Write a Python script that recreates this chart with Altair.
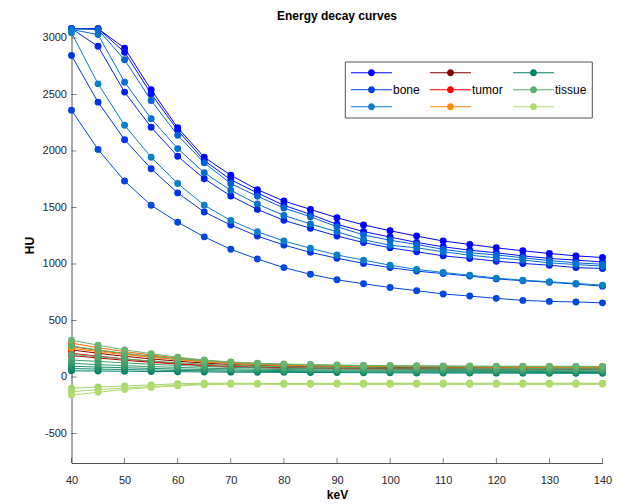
import altair as alt
import pandas as pd

kev = list(range(40, 145, 5))

# ---- bone curves ----
bone_1 = [3082, 3082, 2910, 2542, 2205, 1945, 1785, 1658, 1557, 1483, 1409, 1346, 1294, 1247, 1203, 1173, 1143, 1117, 1093, 1072, 1057]
bone_2 = [3082, 3082, 2874, 2506, 2183, 1915, 1745, 1629, 1519, 1439, 1351, 1287, 1238, 1191, 1152, 1122, 1099, 1072, 1049, 1034, 1018]
bone_3 = [3082, 2926, 2521, 2210, 1953, 1754, 1602, 1483, 1386, 1316, 1247, 1190, 1143, 1108, 1072, 1049, 1025, 1005, 989, 968, 960]
bone_4 = [2845, 2432, 2100, 1843, 1629, 1460, 1345, 1247, 1168, 1103, 1051, 1005, 968, 937, 915, 893, 868, 852, 838, 822, 804]
bone_5 = [2360, 2014, 1734, 1519, 1370, 1240, 1130, 1044, 968, 909, 860, 825, 792, 764, 735, 716, 696, 678, 669, 664, 656]
bone_6 = [3082, 3075, 2807, 2447, 2139, 1895, 1711, 1600, 1495, 1418, 1330, 1257, 1210, 1173, 1129, 1099, 1080, 1055, 1030, 1010, 998]
bone_7 = [3075, 3030, 2609, 2286, 2021, 1807, 1652, 1530, 1430, 1354, 1285, 1214, 1166, 1143, 1108, 1078, 1055, 1035, 1010, 995, 981]
bone_8 = [3046, 2594, 2227, 1945, 1712, 1520, 1385, 1285, 1203, 1139, 1080, 1034, 989, 952, 925, 901, 875, 857, 843, 828, 813]

# ---- tumor curves ----
tumor_1 = [240, 210, 183, 160, 140, 123, 110, 101, 95, 91, 88, 86, 84, 83, 82, 81, 80, 79, 79, 78, 78]
tumor_2 = [190, 168, 148, 130, 115, 102, 93, 87, 83, 80, 78, 76, 75, 74, 73, 72, 72, 71, 71, 70, 70]
tumor_3 = [210, 185, 160, 138, 118, 100, 88, 82, 78, 75, 73, 71, 70, 69, 68, 67, 67, 66, 66, 65, 65]
tumor_4 = [270, 235, 205, 178, 155, 135, 120, 110, 103, 98, 95, 93, 91, 90, 89, 88, 87, 87, 86, 86, 85]
tumor_5 = [300, 260, 225, 195, 168, 147, 130, 119, 111, 106, 102, 99, 97, 95, 94, 93, 92, 91, 91, 90, 90]
tumor_6 = [255, 225, 198, 175, 153, 135, 121, 112, 105, 100, 97, 95, 93, 92, 91, 90, 89, 89, 88, 88, 88]

# ---- tissue curves ----
tissue_1 = [55, 53, 51, 49, 47, 45, 43, 42, 41, 40, 39, 38, 37, 36, 35, 35, 34, 34, 33, 33, 33]
tissue_2 = [75, 70, 66, 62, 58, 55, 52, 50, 48, 47, 46, 45, 44, 43, 42, 42, 41, 41, 40, 40, 40]
tissue_3 = [95, 88, 82, 76, 70, 66, 62, 59, 57, 55, 54, 53, 52, 51, 50, 50, 49, 49, 48, 48, 48]
tissue_4 = [120, 110, 100, 92, 85, 78, 73, 69, 66, 64, 62, 61, 60, 59, 58, 57, 57, 56, 56, 55, 55]
tissue_5 = [150, 138, 125, 113, 102, 93, 86, 81, 77, 74, 72, 70, 69, 68, 67, 66, 65, 65, 64, 64, 63]
tissue_6 = [200, 180, 160, 142, 126, 113, 103, 96, 91, 87, 84, 82, 80, 79, 78, 77, 76, 75, 75, 74, 74]
tissue_7 = [275, 240, 210, 185, 162, 143, 128, 118, 111, 106, 102, 99, 97, 95, 94, 93, 92, 91, 91, 90, 90]
tissue_8 = [325, 282, 240, 207, 175, 150, 133, 122, 115, 110, 106, 103, 101, 99, 98, 97, 96, 95, 95, 94, 94]
tissue_9 = [-100, -88, -80, -70, -60, -55, -55, -57, -57, -57, -56, -56, -55, -55, -55, -55, -55, -55, -55, -55, -55]
tissue_10 = [-130, -112, -98, -85, -72, -62, -60, -60, -61, -61, -60, -60, -60, -60, -60, -60, -60, -60, -60, -60, -60]
tissue_11 = [-160, -135, -110, -92, -78, -68, -64, -64, -65, -65, -65, -65, -65, -65, -65, -65, -65, -65, -65, -65, -65]

series = [
    (bone_1, "#0000FF"), (bone_2, "#0010F8"), (bone_3, "#0020F0"), (bone_4, "#0036E6"),
    (bone_5, "#0048E0"), (bone_6, "#0066D6"), (bone_7, "#0072D0"), (bone_8, "#0A80C8"),
    (tumor_1, "#8B0000"), (tumor_2, "#B40000"), (tumor_3, "#FF0000"), (tumor_4, "#FF3C00"),
    (tumor_5, "#FF6400"), (tumor_6, "#FF8C00"),
    (tissue_1, "#00806A"), (tissue_2, "#10886A"), (tissue_3, "#20906C"), (tissue_4, "#32986C"),
    (tissue_5, "#42A06C"), (tissue_6, "#50A86E"), (tissue_7, "#5AAE6E"), (tissue_8, "#66B46E"),
    (tissue_9, "#A0D46C"), (tissue_10, "#A8D86C"), (tissue_11, "#B0DC6C"),
]

x_ticks = list(range(40, 141, 10))
y_ticks = list(range(-500, 3001, 500))

# legend entries (column-major: bone, tumor, tissue)
legend_ids = ["b1", "b2", "b3", "t1", "t2", "t3", "s1", "s2", "s3"]
legend_cols = ["#0000FF", "#0040F0", "#0A80C8", "#800000", "#FF0000", "#FF8C00", "#00806A", "#5AAE6E", "#B0DC6C"]

rows = []
ids, cols = [], []
for i, (vals, c) in enumerate(series):
    sid = f"s{i:02d}"
    ids.append(sid)
    cols.append(c)
    for k, v in zip(kev, vals):
        rows.append({"keV": k, "HU": v, "series": sid, "ord": i})
df = pd.DataFrame(rows)

W, H = 531, 436
FONT = "Liberation Sans"

xenc = alt.X("keV:Q", scale=alt.Scale(domain=[40, 140], nice=False, zero=False),
             axis=alt.Axis(title="keV", values=x_ticks, labelPadding=11, titlePadding=4,
                           labelFlush=False))
yenc = alt.Y("HU:Q", scale=alt.Scale(domain=[-761, 3097], nice=False, zero=False),
             axis=alt.Axis(title="HU", values=y_ticks, labelExpr="'' + datum.value",
                           labelPadding=5, titlePadding=6, labelFlush=False))
cenc = alt.Color("series:N", scale=alt.Scale(domain=ids, range=cols), legend=None)

lines = alt.Chart(df).mark_line(strokeWidth=1).encode(x=xenc, y=yenc, color=cenc)
points = alt.Chart(df).mark_circle(size=48, opacity=1).encode(
    x=xenc, y=yenc, color=cenc, order=alt.Order("ord:Q"))

xt = alt.Chart(pd.DataFrame({"keV": x_ticks})).mark_tick(
    size=5, thickness=0.8, color="#262626").encode(x=xenc, y=alt.value(H - 2.5))
yt = alt.Chart(pd.DataFrame({"HU": y_ticks})).mark_tick(
    size=5, thickness=0.8, color="#262626").encode(y=yenc, x=alt.value(2.5))

# symbol unit = 5px (symbolSize 100): line 41px long, marker radius 3.5px
sym = ("M-4.1,-0.1L4.1,-0.1L4.1,0.1L-4.1,0.1Z"
       "M0.7,0A0.7,0.7,0,1,1,-0.7,0A0.7,0.7,0,1,1,0.7,0Z")
leg = alt.Chart(pd.DataFrame({"leg": legend_ids})).mark_point(filled=True, opacity=0).encode(
    fill=alt.Fill("leg:N", scale=alt.Scale(domain=legend_ids, range=legend_cols),
                  legend=alt.Legend(
                      title=None, orient="none", legendX=273.5, legendY=34.7, columns=3,
                      symbolType=sym, symbolSize=100, symbolStrokeWidth=0, symbolOpacity=1,
                      symbolOffset=15.5, labelOffset=15.5,
                      labelExpr="datum.label == 'b2' ? 'bone' : datum.label == 't2' ? 'tumor' : datum.label == 's2' ? 'tissue' : ''",
                      labelFont=FONT, labelFontSize=12, labelColor="#000000",
                      strokeColor="#262626", fillColor="#FFFFFF", padding=5,
                      rowPadding=5, columnPadding=9)))

chart = alt.layer(lines, points, xt, yt, leg).properties(
    width=W, height=H,
    title=alt.Title("Energy decay curves", fontSize=12, fontWeight="bold", font=FONT,
                    color="#000000", offset=2),
    autosize=alt.AutoSizeParams(type="none"),
    padding={"left": 63.5, "top": 19, "right": 20, "bottom": 41},
).configure_view(stroke=None).configure_axis(
    labelFont=FONT, labelFontSize=11, labelColor="#262626",
    titleFont=FONT, titleFontSize=12, titleFontWeight="bold", titleColor="#000000",
    domainColor="#262626", domainWidth=0.8, ticks=False, tickSize=0, grid=False,
).configure_legend(strokeWidth=0.8)

chart.save("out.html", embed_options={"renderer": "svg", "actions": False})
